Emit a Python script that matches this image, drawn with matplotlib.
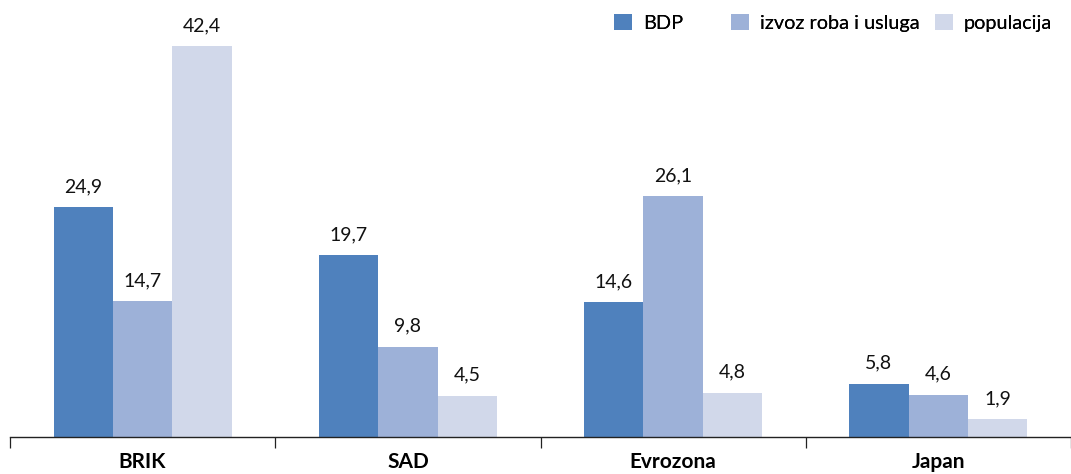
import matplotlib.pyplot as plt
from matplotlib.patches import Patch
import numpy as np

categories = ["BRIK", "SAD", "Evrozona", "Japan"]
series_names = ["BDP", "izvoz roba i usluga", "populacija"]
bdp = [24.9, 19.7, 14.6, 5.8]
izvoz = [14.7, 9.8, 26.1, 4.6]
populacija = [42.4, 4.5, 4.8, 1.9]
colors = ["#4F81BD", "#9DB1D8", "#D1D8EA"]

plt.rcParams["font.family"] = ["Lato", "DejaVu Sans"]

fig = plt.figure(figsize=(10.71, 4.74), dpi=100)
ax = fig.add_axes([10 / 1071, 37 / 474, 1 - 10 / 1071, 1 - 37 / 474])

x = np.arange(len(categories))
width = 0.224
for i, (vals, name, col) in enumerate(zip([bdp, izvoz, populacija], series_names, colors)):
    pos = x + (i - 1) * width
    ax.bar(pos, vals, width, color=col, label=name)
    for p, v in zip(pos, vals):
        ax.text(p, v + 1.3, f"{v:.1f}".replace(".", ","), ha="center", va="bottom",
                fontsize=14, color="#111111")

ax.set_xlim(-0.5, -0.5 + 1061 / 267.5)
ax.set_ylim(0, 47.4)
for s in ["top", "right", "left"]:
    ax.spines[s].set_visible(False)
ax.spines["bottom"].set_linewidth(1.0)
ax.spines["bottom"].set_color("#222222")
ax.set_yticks([])

ax.set_xticks(x)
ax.set_xticklabels(categories, fontsize=15, fontweight="bold")
ax.tick_params(axis="x", which="major", length=0, pad=11)
ax.set_xticks(np.arange(len(categories) + 1) - 0.5, minor=True)
ax.tick_params(axis="x", which="minor", length=8, width=0.9, color="#222222", direction="out")

# legend entries sit at fixed spots along the top
legend_x = [614, 731, 935]
for name, col, lx in zip(series_names, colors, legend_x):
    leg = fig.legend(handles=[Patch(facecolor=col, edgecolor="none", label=name)],
                     loc="upper left", bbox_to_anchor=(lx / 1071, 1 - 14 / 474),
                     frameon=False, fontsize=14.3, handlelength=0.9, handleheight=0.9,
                     handletextpad=0.55, borderpad=0, borderaxespad=0)
    fig.add_artist(leg)

fig.savefig("out.png", dpi=100)
